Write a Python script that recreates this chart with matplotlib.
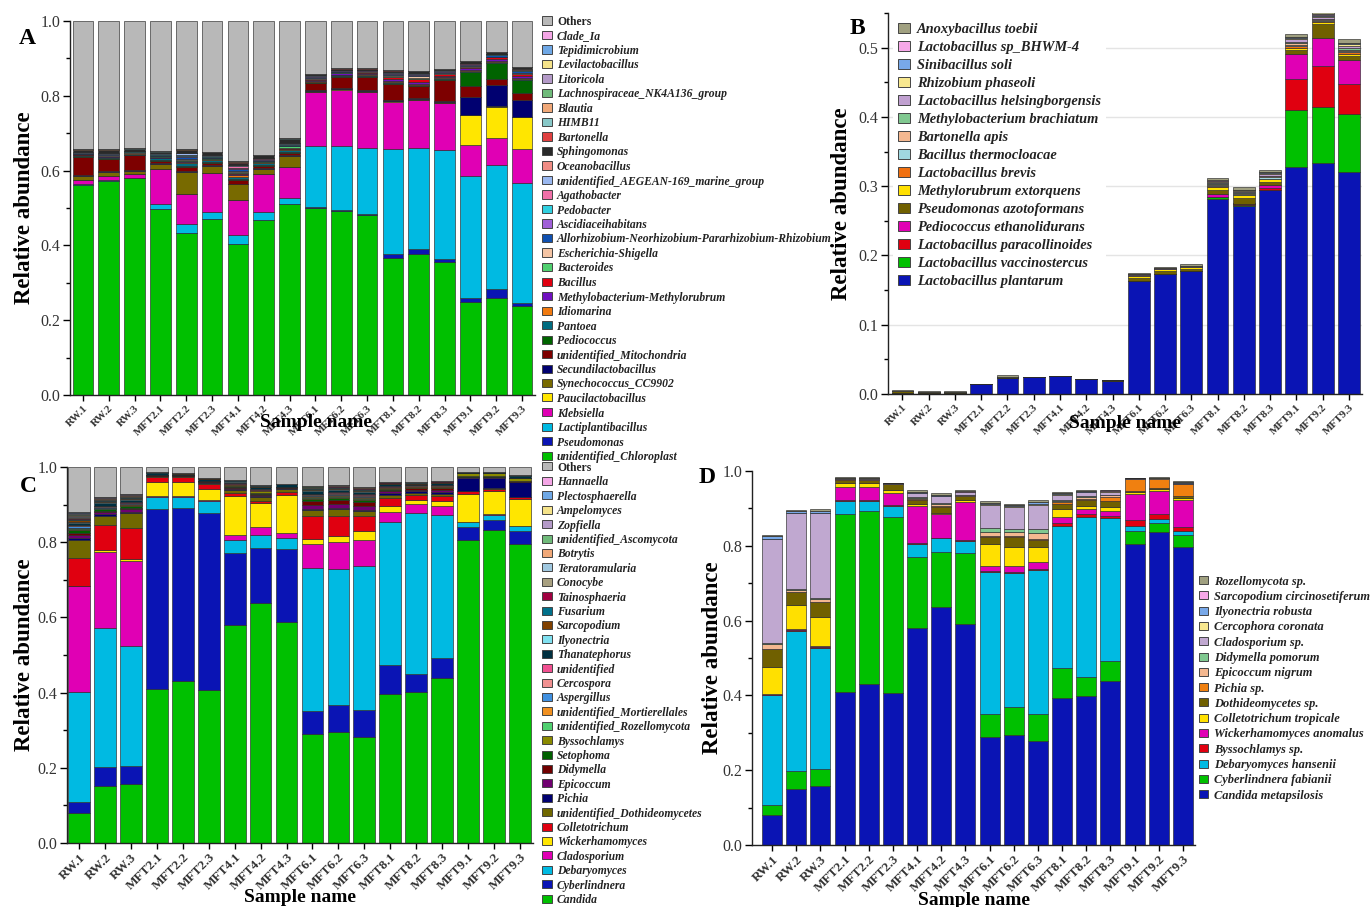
import matplotlib
matplotlib.use('Agg')
import matplotlib.pyplot as plt
from matplotlib.patches import Rectangle
from matplotlib.ticker import MultipleLocator, FormatStrFormatter
import numpy as np

plt.rcParams['font.family'] = ['Liberation Serif', 'DejaVu Serif']

samples = ['RW.1', 'RW.2', 'RW.3', 'MFT2.1', 'MFT2.2', 'MFT2.3', 'MFT4.1', 'MFT4.2', 'MFT4.3',
           'MFT6.1', 'MFT6.2', 'MFT6.3', 'MFT8.1', 'MFT8.2', 'MFT8.3', 'MFT9.1', 'MFT9.2', 'MFT9.3']

# ---------------- Panel A (bacterial genera), bottom -> top ----------------
a_chloroplast = [0.562, 0.572, 0.579, 0.496, 0.434, 0.470, 0.405, 0.468, 0.510, 0.499, 0.492, 0.481, 0.367, 0.378, 0.356, 0.249, 0.259, 0.238]
a_pseudomonas = [0.000, 0.000, 0.000, 0.000, 0.000, 0.000, 0.000, 0.000, 0.000, 0.005, 0.003, 0.004, 0.009, 0.013, 0.007, 0.010, 0.025, 0.007]
a_lactiplantibacillus = [0.002, 0.002, 0.002, 0.014, 0.022, 0.020, 0.024, 0.020, 0.016, 0.162, 0.171, 0.175, 0.281, 0.270, 0.291, 0.327, 0.331, 0.323]
a_klebsiella = [0.010, 0.012, 0.011, 0.095, 0.081, 0.104, 0.092, 0.104, 0.084, 0.144, 0.150, 0.150, 0.126, 0.127, 0.126, 0.082, 0.073, 0.089]
a_paucilactobacillus = [0.000, 0.000, 0.000, 0.000, 0.000, 0.000, 0.000, 0.000, 0.000, 0.001, 0.001, 0.001, 0.002, 0.002, 0.002, 0.080, 0.082, 0.085]
a_synechococcus = [0.012, 0.010, 0.007, 0.012, 0.059, 0.018, 0.042, 0.013, 0.029, 0.002, 0.002, 0.002, 0.002, 0.002, 0.002, 0.002, 0.002, 0.002]
a_secundilactobacillus = [0.002, 0.002, 0.002, 0.002, 0.002, 0.002, 0.002, 0.002, 0.002, 0.002, 0.002, 0.002, 0.003, 0.003, 0.003, 0.047, 0.058, 0.044]
a_mitochondria = [0.049, 0.034, 0.040, 0.008, 0.012, 0.007, 0.011, 0.006, 0.006, 0.019, 0.029, 0.036, 0.042, 0.030, 0.055, 0.029, 0.016, 0.020]
a_pediococcus = [0.002, 0.002, 0.002, 0.002, 0.003, 0.002, 0.002, 0.002, 0.004, 0.002, 0.003, 0.003, 0.003, 0.003, 0.003, 0.038, 0.042, 0.034]
a_pantoea = [0.002, 0.002, 0.002, 0.004, 0.006, 0.005, 0.005, 0.005, 0.005, 0.002, 0.002, 0.002, 0.002, 0.002, 0.002, 0.002, 0.002, 0.003]
a_idiomarina = [0.001, 0.001, 0.001, 0.002, 0.004, 0.002, 0.006, 0.002, 0.002, 0.001, 0.001, 0.001, 0.002, 0.002, 0.002, 0.002, 0.002, 0.002]
a_methylobacterium = [0.001, 0.001, 0.001, 0.001, 0.002, 0.001, 0.002, 0.001, 0.001, 0.004, 0.004, 0.004, 0.005, 0.005, 0.005, 0.006, 0.006, 0.006]
a_bacillus = [0.001, 0.001, 0.001, 0.001, 0.002, 0.001, 0.002, 0.001, 0.002, 0.002, 0.002, 0.002, 0.007, 0.008, 0.004, 0.003, 0.005, 0.004]
a_bacteroides = [0.000, 0.001, 0.000, 0.001, 0.002, 0.001, 0.003, 0.001, 0.004, 0.001, 0.001, 0.001, 0.002, 0.002, 0.001, 0.001, 0.001, 0.002]
a_escherichia = [0.001, 0.001, 0.001, 0.001, 0.003, 0.001, 0.003, 0.001, 0.001, 0.001, 0.001, 0.001, 0.002, 0.005, 0.001, 0.001, 0.001, 0.002]
a_allorhizobium = [0.002, 0.003, 0.002, 0.002, 0.004, 0.002, 0.004, 0.003, 0.002, 0.003, 0.003, 0.002, 0.003, 0.003, 0.003, 0.004, 0.003, 0.004]
a_ascidiaceihabitans = [0.000, 0.000, 0.000, 0.001, 0.002, 0.001, 0.003, 0.001, 0.001, 0.002, 0.001, 0.001, 0.002, 0.002, 0.002, 0.002, 0.002, 0.002]
a_pedobacter = [0.001, 0.001, 0.001, 0.002, 0.003, 0.002, 0.002, 0.002, 0.002, 0.001, 0.001, 0.001, 0.001, 0.001, 0.001, 0.001, 0.001, 0.001]
a_agathobacter = [0.000, 0.000, 0.000, 0.001, 0.002, 0.001, 0.003, 0.001, 0.001, 0.001, 0.001, 0.001, 0.001, 0.001, 0.001, 0.001, 0.001, 0.001]
a_aegean = [0.001, 0.002, 0.001, 0.001, 0.003, 0.001, 0.003, 0.001, 0.001, 0.001, 0.000, 0.000, 0.001, 0.001, 0.001, 0.001, 0.001, 0.001]
a_oceanobacillus = [0.000, 0.001, 0.000, 0.000, 0.002, 0.001, 0.002, 0.001, 0.001, 0.000, 0.000, 0.000, 0.001, 0.001, 0.000, 0.000, 0.000, 0.001]
a_sphingomonas = [0.006, 0.006, 0.006, 0.005, 0.006, 0.007, 0.005, 0.007, 0.010, 0.003, 0.002, 0.002, 0.003, 0.004, 0.003, 0.004, 0.004, 0.005]
a_bartonella = [0.000, 0.000, 0.000, 0.000, 0.001, 0.000, 0.001, 0.000, 0.001, 0.001, 0.001, 0.001, 0.002, 0.002, 0.001, 0.001, 0.001, 0.002]
a_himb11 = [0.001, 0.002, 0.001, 0.001, 0.001, 0.001, 0.002, 0.001, 0.001, 0.000, 0.000, 0.000, 0.000, 0.000, 0.000, 0.000, 0.000, 0.000]
a_blautia = [0.001, 0.001, 0.001, 0.000, 0.001, 0.000, 0.001, 0.000, 0.000, 0.000, 0.000, 0.000, 0.000, 0.000, 0.000, 0.000, 0.000, 0.000]
a_lachnospiraceae = [0.000, 0.000, 0.000, 0.000, 0.001, 0.000, 0.001, 0.000, 0.000, 0.000, 0.000, 0.000, 0.000, 0.000, 0.000, 0.000, 0.000, 0.000]
a_litoricola = [0.000, 0.000, 0.000, 0.000, 0.001, 0.000, 0.001, 0.000, 0.000, 0.000, 0.000, 0.000, 0.000, 0.000, 0.000, 0.000, 0.000, 0.000]
a_levilactobacillus = [0.000, 0.000, 0.000, 0.000, 0.000, 0.000, 0.000, 0.000, 0.000, 0.000, 0.000, 0.000, 0.000, 0.000, 0.000, 0.000, 0.000, 0.000]
a_tepidimicrobium = [0.000, 0.000, 0.000, 0.000, 0.000, 0.000, 0.000, 0.000, 0.000, 0.000, 0.000, 0.000, 0.000, 0.000, 0.000, 0.000, 0.000, 0.000]
a_clade_ia = [0.000, 0.000, 0.000, 0.000, 0.000, 0.000, 0.000, 0.000, 0.000, 0.000, 0.000, 0.000, 0.000, 0.000, 0.000, 0.000, 0.000, 0.000]
a_others = [0.343, 0.343, 0.339, 0.348, 0.341, 0.350, 0.373, 0.357, 0.314, 0.141, 0.127, 0.127, 0.131, 0.133, 0.128, 0.107, 0.082, 0.122]

# ---------------- Panel B (bacterial species), bottom -> top ----------------
b_plantarum = [0.001, 0.001, 0.001, 0.014, 0.023, 0.025, 0.026, 0.021, 0.019, 0.163, 0.173, 0.177, 0.282, 0.272, 0.294, 0.327, 0.333, 0.320]
b_vaccinostercus = [0.000, 0.000, 0.000, 0.000, 0.000, 0.000, 0.000, 0.000, 0.000, 0.000, 0.000, 0.000, 0.002, 0.001, 0.001, 0.083, 0.082, 0.084]
b_paracollinoides = [0.000, 0.000, 0.000, 0.000, 0.000, 0.000, 0.000, 0.000, 0.000, 0.000, 0.000, 0.000, 0.001, 0.001, 0.003, 0.045, 0.059, 0.044]
b_pediococcus = [0.000, 0.000, 0.000, 0.000, 0.000, 0.000, 0.000, 0.000, 0.000, 0.000, 0.000, 0.000, 0.003, 0.001, 0.004, 0.036, 0.040, 0.034]
b_pseudomonas = [0.004, 0.002, 0.002, 0.001, 0.002, 0.000, 0.000, 0.000, 0.001, 0.005, 0.005, 0.004, 0.007, 0.008, 0.004, 0.005, 0.020, 0.006]
b_methylorubrum = [0.000, 0.000, 0.000, 0.000, 0.000, 0.000, 0.000, 0.000, 0.000, 0.003, 0.002, 0.002, 0.004, 0.004, 0.004, 0.003, 0.003, 0.003]
b_brevis = [0.000, 0.000, 0.000, 0.000, 0.000, 0.000, 0.000, 0.000, 0.000, 0.000, 0.000, 0.000, 0.001, 0.000, 0.001, 0.003, 0.002, 0.002]
b_thermocloacae = [0.000, 0.000, 0.000, 0.000, 0.000, 0.000, 0.000, 0.000, 0.000, 0.000, 0.000, 0.000, 0.002, 0.002, 0.002, 0.002, 0.001, 0.002]
b_bartonella = [0.000, 0.000, 0.000, 0.000, 0.000, 0.000, 0.000, 0.000, 0.000, 0.001, 0.001, 0.001, 0.001, 0.001, 0.001, 0.002, 0.001, 0.002]
b_methylobacterium = [0.000, 0.000, 0.000, 0.000, 0.000, 0.000, 0.000, 0.000, 0.000, 0.000, 0.000, 0.000, 0.001, 0.001, 0.001, 0.002, 0.001, 0.002]
b_helsingborgensis = [0.000, 0.000, 0.000, 0.000, 0.000, 0.000, 0.000, 0.000, 0.000, 0.001, 0.001, 0.001, 0.002, 0.002, 0.003, 0.004, 0.002, 0.004]
b_rhizobium = [0.000, 0.000, 0.000, 0.000, 0.000, 0.000, 0.000, 0.000, 0.000, 0.000, 0.000, 0.000, 0.001, 0.001, 0.001, 0.002, 0.002, 0.002]
b_sinibacillus = [0.000, 0.000, 0.000, 0.000, 0.000, 0.000, 0.000, 0.000, 0.000, 0.000, 0.000, 0.000, 0.001, 0.001, 0.001, 0.001, 0.001, 0.001]
b_bhwm4 = [0.000, 0.000, 0.000, 0.000, 0.000, 0.000, 0.000, 0.000, 0.000, 0.000, 0.000, 0.000, 0.001, 0.000, 0.001, 0.001, 0.001, 0.001]
b_anoxybacillus = [0.001, 0.001, 0.001, 0.000, 0.002, 0.000, 0.000, 0.000, 0.000, 0.001, 0.002, 0.002, 0.003, 0.004, 0.003, 0.004, 0.003, 0.006]

# ---------------- Panel C (fungal genera), bottom -> top ----------------
c_candida = [0.080, 0.151, 0.158, 0.410, 0.430, 0.408, 0.579, 0.637, 0.588, 0.290, 0.294, 0.282, 0.395, 0.401, 0.439, 0.805, 0.833, 0.795]
c_cyberlindnera = [0.029, 0.050, 0.048, 0.477, 0.461, 0.470, 0.192, 0.148, 0.194, 0.062, 0.074, 0.073, 0.079, 0.049, 0.053, 0.035, 0.027, 0.034]
c_debaryomyces = [0.293, 0.371, 0.317, 0.033, 0.029, 0.031, 0.036, 0.035, 0.029, 0.379, 0.362, 0.381, 0.381, 0.428, 0.381, 0.014, 0.013, 0.013]
c_cladosporium = [0.282, 0.202, 0.226, 0.004, 0.002, 0.004, 0.013, 0.020, 0.013, 0.065, 0.070, 0.071, 0.024, 0.024, 0.024, 0.001, 0.001, 0.001]
c_wickerhamomyces = [0.000, 0.006, 0.005, 0.036, 0.038, 0.029, 0.104, 0.064, 0.102, 0.013, 0.016, 0.022, 0.016, 0.011, 0.012, 0.074, 0.062, 0.071]
c_colletotrichum = [0.074, 0.065, 0.084, 0.013, 0.013, 0.014, 0.008, 0.006, 0.008, 0.060, 0.053, 0.040, 0.023, 0.013, 0.013, 0.006, 0.005, 0.005]
c_dothideomycetes = [0.049, 0.026, 0.040, 0.002, 0.002, 0.002, 0.008, 0.010, 0.008, 0.016, 0.018, 0.013, 0.008, 0.006, 0.006, 0.002, 0.002, 0.002]
c_pichia = [0.003, 0.003, 0.003, 0.001, 0.001, 0.001, 0.002, 0.002, 0.001, 0.004, 0.004, 0.004, 0.005, 0.004, 0.006, 0.035, 0.029, 0.039]
c_epicoccum = [0.008, 0.005, 0.006, 0.001, 0.001, 0.001, 0.003, 0.003, 0.001, 0.010, 0.010, 0.010, 0.004, 0.003, 0.004, 0.001, 0.001, 0.001]
c_didymella = [0.006, 0.005, 0.005, 0.001, 0.001, 0.002, 0.003, 0.004, 0.002, 0.010, 0.011, 0.010, 0.005, 0.004, 0.005, 0.001, 0.001, 0.001]
c_setophoma = [0.008, 0.003, 0.004, 0.001, 0.000, 0.001, 0.002, 0.003, 0.001, 0.005, 0.005, 0.005, 0.002, 0.002, 0.002, 0.001, 0.001, 0.001]
c_byssochlamys = [0.003, 0.002, 0.002, 0.000, 0.000, 0.000, 0.002, 0.003, 0.001, 0.003, 0.003, 0.003, 0.002, 0.002, 0.002, 0.008, 0.008, 0.008]
c_rozellomycota = [0.002, 0.002, 0.002, 0.000, 0.000, 0.000, 0.001, 0.002, 0.000, 0.003, 0.003, 0.004, 0.001, 0.001, 0.001, 0.000, 0.000, 0.000]
c_mortierellales = [0.002, 0.001, 0.001, 0.000, 0.000, 0.000, 0.001, 0.001, 0.000, 0.002, 0.002, 0.002, 0.001, 0.001, 0.001, 0.001, 0.001, 0.001]
c_aspergillus = [0.003, 0.002, 0.002, 0.000, 0.000, 0.000, 0.001, 0.001, 0.000, 0.003, 0.003, 0.003, 0.001, 0.001, 0.001, 0.000, 0.000, 0.000]
c_cercospora = [0.003, 0.002, 0.002, 0.000, 0.000, 0.000, 0.001, 0.001, 0.000, 0.002, 0.003, 0.002, 0.001, 0.001, 0.001, 0.000, 0.000, 0.000]
c_unidentified = [0.002, 0.001, 0.001, 0.000, 0.000, 0.000, 0.001, 0.001, 0.000, 0.002, 0.002, 0.002, 0.001, 0.000, 0.001, 0.000, 0.000, 0.000]
c_thanatephorus = [0.005, 0.006, 0.006, 0.005, 0.004, 0.006, 0.004, 0.005, 0.006, 0.006, 0.006, 0.006, 0.005, 0.004, 0.005, 0.002, 0.002, 0.004]
c_ilyonectria = [0.002, 0.003, 0.002, 0.000, 0.000, 0.000, 0.001, 0.002, 0.000, 0.003, 0.003, 0.003, 0.001, 0.001, 0.001, 0.000, 0.000, 0.000]
c_sarcopodium = [0.004, 0.003, 0.003, 0.001, 0.001, 0.002, 0.002, 0.002, 0.001, 0.003, 0.003, 0.003, 0.002, 0.002, 0.002, 0.001, 0.001, 0.001]
c_fusarium = [0.003, 0.002, 0.002, 0.001, 0.001, 0.001, 0.001, 0.001, 0.001, 0.002, 0.003, 0.002, 0.001, 0.001, 0.001, 0.001, 0.001, 0.001]
c_tainosphaeria = [0.003, 0.002, 0.002, 0.000, 0.000, 0.000, 0.000, 0.000, 0.000, 0.002, 0.002, 0.002, 0.001, 0.000, 0.001, 0.000, 0.000, 0.000]
c_conocybe = [0.004, 0.002, 0.002, 0.000, 0.000, 0.000, 0.000, 0.000, 0.000, 0.001, 0.001, 0.001, 0.000, 0.000, 0.000, 0.000, 0.000, 0.000]
c_teratoramularia = [0.002, 0.001, 0.001, 0.000, 0.000, 0.000, 0.000, 0.000, 0.000, 0.001, 0.001, 0.001, 0.000, 0.000, 0.000, 0.000, 0.000, 0.000]
c_botrytis = [0.002, 0.001, 0.001, 0.000, 0.000, 0.000, 0.000, 0.000, 0.000, 0.001, 0.001, 0.001, 0.000, 0.000, 0.000, 0.000, 0.000, 0.000]
c_ascomycota = [0.002, 0.001, 0.001, 0.000, 0.000, 0.000, 0.000, 0.000, 0.000, 0.001, 0.000, 0.001, 0.000, 0.000, 0.000, 0.000, 0.000, 0.000]
c_zopfiella = [0.003, 0.002, 0.002, 0.000, 0.000, 0.000, 0.000, 0.000, 0.000, 0.000, 0.000, 0.000, 0.000, 0.000, 0.000, 0.000, 0.000, 0.000]
c_ampelomyces = [0.001, 0.000, 0.000, 0.000, 0.000, 0.000, 0.000, 0.000, 0.000, 0.000, 0.000, 0.000, 0.000, 0.000, 0.000, 0.000, 0.000, 0.000]
c_plectosphaerella = [0.001, 0.000, 0.000, 0.000, 0.000, 0.000, 0.000, 0.000, 0.000, 0.000, 0.000, 0.000, 0.000, 0.000, 0.000, 0.000, 0.000, 0.000]
c_hannaella = [0.000, 0.000, 0.000, 0.000, 0.000, 0.000, 0.000, 0.000, 0.000, 0.000, 0.000, 0.000, 0.000, 0.000, 0.000, 0.000, 0.000, 0.000]
c_others = [0.121, 0.080, 0.072, 0.014, 0.016, 0.028, 0.035, 0.049, 0.044, 0.051, 0.047, 0.053, 0.041, 0.041, 0.038, 0.012, 0.012, 0.022]

# ---------------- Panel D (fungal species), bottom -> top ----------------
d_candida = [0.081, 0.150, 0.158, 0.410, 0.431, 0.407, 0.579, 0.637, 0.590, 0.288, 0.295, 0.279, 0.394, 0.399, 0.439, 0.806, 0.836, 0.797]
d_cyberlindnera = [0.027, 0.048, 0.046, 0.475, 0.463, 0.470, 0.191, 0.147, 0.191, 0.062, 0.073, 0.072, 0.079, 0.049, 0.054, 0.034, 0.026, 0.032]
d_debaryomyces = [0.293, 0.374, 0.323, 0.036, 0.027, 0.030, 0.035, 0.036, 0.032, 0.380, 0.359, 0.385, 0.380, 0.429, 0.381, 0.013, 0.009, 0.011]
d_byssochlamys = [0.001, 0.003, 0.003, 0.001, 0.001, 0.001, 0.002, 0.002, 0.002, 0.002, 0.002, 0.002, 0.007, 0.008, 0.006, 0.015, 0.014, 0.011]
d_wickerhamomyces = [0.001, 0.003, 0.002, 0.036, 0.036, 0.033, 0.100, 0.063, 0.101, 0.013, 0.017, 0.019, 0.017, 0.013, 0.014, 0.071, 0.061, 0.072]
d_colletotrichum = [0.073, 0.064, 0.078, 0.010, 0.010, 0.009, 0.005, 0.004, 0.006, 0.060, 0.051, 0.040, 0.021, 0.009, 0.011, 0.004, 0.005, 0.005]
d_dothideomycetes = [0.049, 0.034, 0.040, 0.009, 0.008, 0.014, 0.011, 0.016, 0.010, 0.019, 0.027, 0.018, 0.015, 0.016, 0.014, 0.003, 0.004, 0.004]
d_pichia = [0.000, 0.000, 0.000, 0.001, 0.001, 0.001, 0.002, 0.002, 0.002, 0.002, 0.002, 0.003, 0.004, 0.003, 0.012, 0.032, 0.024, 0.032]
d_epicoccum = [0.012, 0.006, 0.008, 0.001, 0.001, 0.001, 0.003, 0.004, 0.002, 0.012, 0.012, 0.017, 0.003, 0.004, 0.004, 0.001, 0.001, 0.002]
d_didymella = [0.002, 0.002, 0.002, 0.000, 0.000, 0.000, 0.002, 0.003, 0.001, 0.009, 0.006, 0.009, 0.002, 0.002, 0.002, 0.000, 0.000, 0.000]
d_cladosporium = [0.279, 0.203, 0.227, 0.001, 0.002, 0.001, 0.010, 0.018, 0.006, 0.063, 0.061, 0.066, 0.015, 0.012, 0.008, 0.001, 0.001, 0.002]
d_cercophora = [0.001, 0.002, 0.002, 0.001, 0.001, 0.000, 0.002, 0.002, 0.001, 0.002, 0.002, 0.003, 0.002, 0.001, 0.001, 0.001, 0.001, 0.001]
d_ilyonectria = [0.006, 0.003, 0.004, 0.001, 0.001, 0.001, 0.002, 0.002, 0.001, 0.002, 0.002, 0.003, 0.002, 0.001, 0.001, 0.000, 0.000, 0.001]
d_sarcopodium = [0.002, 0.001, 0.001, 0.000, 0.000, 0.000, 0.001, 0.001, 0.001, 0.001, 0.001, 0.002, 0.001, 0.001, 0.001, 0.000, 0.000, 0.001]
d_rozellomycota = [0.002, 0.003, 0.004, 0.001, 0.001, 0.000, 0.003, 0.004, 0.002, 0.004, 0.002, 0.005, 0.002, 0.002, 0.002, 0.001, 0.002, 0.002]

# ---------------- series definitions (bottom -> top) ----------------
series_a = [
    ('unidentified_Chloroplast', '#00c000', a_chloroplast),
    ('Pseudomonas', '#0a14b4', a_pseudomonas),
    ('Lactiplantibacillus', '#00bae2', a_lactiplantibacillus),
    ('Klebsiella', '#e000b4', a_klebsiella),
    ('Paucilactobacillus', '#ffe600', a_paucilactobacillus),
    ('Synechococcus_CC9902', '#786a00', a_synechococcus),
    ('Secundilactobacillus', '#000070', a_secundilactobacillus),
    ('unidentified_Mitochondria', '#7d0000', a_mitochondria),
    ('Pediococcus', '#006400', a_pediococcus),
    ('Pantoea', '#006c80', a_pantoea),
    ('Idiomarina', '#f07a10', a_idiomarina),
    ('Methylobacterium-Methylorubrum', '#7010c0', a_methylobacterium),
    ('Bacillus', '#e00010', a_bacillus),
    ('Bacteroides', '#50d070', a_bacteroides),
    ('Escherichia-Shigella', '#f4c4a4', a_escherichia),
    ('Allorhizobium-Neorhizobium-Pararhizobium-Rhizobium', '#1050b0', a_allorhizobium),
    ('Ascidiaceihabitans', '#a060d8', a_ascidiaceihabitans),
    ('Pedobacter', '#30d0e0', a_pedobacter),
    ('Agathobacter', '#f070a8', a_agathobacter),
    ('unidentified_AEGEAN-169_marine_group', '#9ab8f0', a_aegean),
    ('Oceanobacillus', '#f08c84', a_oceanobacillus),
    ('Sphingomonas', '#2a2a2a', a_sphingomonas),
    ('Bartonella', '#e04040', a_bartonella),
    ('HIMB11', '#88c8c8', a_himb11),
    ('Blautia', '#f0a878', a_blautia),
    ('Lachnospiraceae_NK4A136_group', '#6fba7a', a_lachnospiraceae),
    ('Litoricola', '#b49ac8', a_litoricola),
    ('Levilactobacillus', '#f5e38a', a_levilactobacillus),
    ('Tepidimicrobium', '#6fa8e6', a_tepidimicrobium),
    ('Clade_Ia', '#f4a6e6', a_clade_ia),
    ('Others', '#b8b8b8', a_others),
]

series_b = [
    ('Lactobacillus plantarum', '#0a14b4', b_plantarum),
    ('Lactobacillus vaccinostercus', '#00c000', b_vaccinostercus),
    ('Lactobacillus paracollinoides', '#e00010', b_paracollinoides),
    ('Pediococcus ethanolidurans', '#e000b4', b_pediococcus),
    ('Pseudomonas azotoformans', '#706000', b_pseudomonas),
    ('Methylorubrum extorquens', '#ffe000', b_methylorubrum),
    ('Lactobacillus brevis', '#f07010', b_brevis),
    ('Bacillus thermocloacae', '#a0d8e0', b_thermocloacae),
    ('Bartonella apis', '#f4b890', b_bartonella),
    ('Methylobacterium brachiatum', '#80c890', b_methylobacterium),
    ('Lactobacillus helsingborgensis', '#c0a0d0', b_helsingborgensis),
    ('Rhizobium phaseoli', '#f8e890', b_rhizobium),
    ('Sinibacillus soli', '#78a8e8', b_sinibacillus),
    ('Lactobacillus sp_BHWM-4', '#f7a8e8', b_bhwm4),
    ('Anoxybacillus toebii', '#a0a080', b_anoxybacillus),
]

series_c = [
    ('Candida', '#00c000', c_candida),
    ('Cyberlindnera', '#0a14b4', c_cyberlindnera),
    ('Debaryomyces', '#00bae2', c_debaryomyces),
    ('Cladosporium', '#e000b4', c_cladosporium),
    ('Wickerhamomyces', '#ffe600', c_wickerhamomyces),
    ('Colletotrichum', '#e00010', c_colletotrichum),
    ('unidentified_Dothideomycetes', '#706800', c_dothideomycetes),
    ('Pichia', '#000070', c_pichia),
    ('Epicoccum', '#700070', c_epicoccum),
    ('Didymella', '#700000', c_didymella),
    ('Setophoma', '#006000', c_setophoma),
    ('Byssochlamys', '#8a8a00', c_byssochlamys),
    ('unidentified_Rozellomycota', '#50d070', c_rozellomycota),
    ('unidentified_Mortierellales', '#f09020', c_mortierellales),
    ('Aspergillus', '#4090e0', c_aspergillus),
    ('Cercospora', '#f09090', c_cercospora),
    ('unidentified', '#f05090', c_unidentified),
    ('Thanatephorus', '#003040', c_thanatephorus),
    ('Ilyonectria', '#80e0f0', c_ilyonectria),
    ('Sarcopodium', '#804000', c_sarcopodium),
    ('Fusarium', '#00708a', c_fusarium),
    ('Tainosphaeria', '#a00040', c_tainosphaeria),
    ('Conocybe', '#a8a080', c_conocybe),
    ('Teratoramularia', '#a0c8e0', c_teratoramularia),
    ('Botrytis', '#f0a878', c_botrytis),
    ('unidentified_Ascomycota', '#6fba7a', c_ascomycota),
    ('Zopfiella', '#b49ac8', c_zopfiella),
    ('Ampelomyces', '#f5e38a', c_ampelomyces),
    ('Plectosphaerella', '#6fa8e6', c_plectosphaerella),
    ('Hannaella', '#f4a6e6', c_hannaella),
    ('Others', '#b8b8b8', c_others),
]

series_d = [
    ('Candida metapsilosis', '#0a14b4', d_candida),
    ('Cyberlindnera fabianii', '#00c000', d_cyberlindnera),
    ('Debaryomyces hansenii', '#00bae2', d_debaryomyces),
    ('Byssochlamys sp.', '#e00010', d_byssochlamys),
    ('Wickerhamomyces anomalus', '#e000b4', d_wickerhamomyces),
    ('Colletotrichum tropicale', '#ffe000', d_colletotrichum),
    ('Dothideomycetes sp.', '#706000', d_dothideomycetes),
    ('Pichia sp.', '#f08010', d_pichia),
    ('Epicoccum nigrum', '#f4b890', d_epicoccum),
    ('Didymella pomorum', '#80c890', d_didymella),
    ('Cladosporium sp.', '#c0a8d0', d_cladosporium),
    ('Cercophora coronata', '#f8e890', d_cercophora),
    ('Ilyonectria robusta', '#78a8e8', d_ilyonectria),
    ('Sarcopodium circinosetiferum', '#f7a8e8', d_sarcopodium),
    ('Rozellomycota sp.', '#a0a080', d_rozellomycota),
]

W, H = 1370, 907
fig = plt.figure(figsize=(W / 100, H / 100), dpi=100)


def axes_px(left, right, top, bottom):
    return fig.add_axes([left / W, 1 - bottom / H, (right - left) / W, (bottom - top) / H])


def draw_stack(ax, series, width):
    x = np.arange(len(samples))
    base = np.zeros(len(samples))
    for name, color, vals in series:
        v = np.asarray(vals, dtype=float)
        ax.bar(x, v, width, bottom=base, color=color, edgecolor='#2a2a2a', linewidth=0.45, zorder=2)
        base = base + v


def style(ax, ymax, major, xlim, xfs, ylab_x, xlab_xy, letter, letter_xy):
    ax.set_ylim(0, ymax)
    ax.set_xlim(*xlim)
    for s in ('top', 'right'):
        ax.spines[s].set_visible(False)
    for s in ('left', 'bottom'):
        ax.spines[s].set_linewidth(1.0)
        ax.spines[s].set_color('#222222')
    ax.yaxis.set_major_locator(MultipleLocator(major))
    ax.yaxis.set_minor_locator(MultipleLocator(major / 2))
    ax.yaxis.set_major_formatter(FormatStrFormatter('%.1f'))
    ax.tick_params(axis='y', which='major', direction='out', length=5, width=1, labelsize=11.5,
                   labelcolor='#333333', pad=2)
    ax.tick_params(axis='y', which='minor', direction='out', length=3, width=1)
    ax.set_xticks(np.arange(len(samples)))
    ax.set_xticklabels(samples, rotation=45, ha='right', rotation_mode='anchor',
                       fontweight='bold', fontsize=xfs, color='#333333')
    ax.tick_params(axis='x', direction='out', length=4, width=1, pad=2)
    ax.set_ylabel('Relative abundance', fontsize=16.5, fontweight='bold')
    ax.yaxis.set_label_coords(ylab_x, 0.5)
    ax.set_xlabel('Sample name', fontsize=14, fontweight='bold', va='top')
    ax.xaxis.set_label_coords(*xlab_xy)
    fig.text(letter_xy[0] / W, 1 - letter_xy[1] / H, letter, fontsize=17, fontweight='bold',
             ha='center', va='center')


def manual_legend(series, mx, y0, step, mw, mh, tx, fs):
    """Legend rows drawn top -> bottom (reverse of stacking order), pixel positions."""
    for i, (name, color, vals) in enumerate(reversed(series)):
        yc = y0 + i * step
        fig.add_artist(Rectangle((mx / W, 1 - (yc + mh / 2) / H), mw / W, mh / H,
                                 transform=fig.transFigure, facecolor=color,
                                 edgecolor='#444444', linewidth=0.7, zorder=4))
        fig.text(tx / W, 1 - yc / H, name, fontsize=fs, fontweight='bold',
                 style='normal' if name == 'Others' else 'italic',
                 ha='left', va='center_baseline', color='#222222', zorder=5)


# Panel A
axA = axes_px(70, 535, 21, 395)
draw_stack(axA, series_a, 0.8)
style(axA, 1.0, 0.2, (-0.5, 17.5), 8, -0.075, (0.53, -0.052), 'A', (27, 38))
manual_legend(series_a, 542, 20.5, 14.5, 10, 8, 557, 8.4)

# Panel B
axB = axes_px(888, 1362, 13, 394)
axB.yaxis.grid(True, which='major', color='#e4e4e4', linewidth=1.0, zorder=0)
axB.set_axisbelow(True)
draw_stack(axB, series_b, 0.83)
style(axB, 0.55, 0.1, (-0.55, 17.5), 8, -0.076, (0.5, -0.054), 'B', (857, 28))
fig.add_artist(Rectangle((893 / W, 1 - 290 / H), (1106 - 893) / W, (290 - 16) / H,
                         transform=fig.transFigure, facecolor='white', edgecolor='none', zorder=3))
manual_legend(series_b, 898, 28, 18, 12, 10, 917, 10.4)

# Panel C
axC = axes_px(67, 533, 467, 843)
draw_stack(axC, series_c, 0.84)
style(axC, 1.0, 0.2, (-0.46, 17.5), 9.5, -0.069, (0.5, -0.122), 'C', (28, 487))
manual_legend(series_c, 542, 466.5, 14.4, 10, 8, 557, 8.4)

# Panel D
axD = axes_px(752, 1195, 471, 845)
draw_stack(axD, series_d, 0.83)
style(axD, 1.0, 0.2, (-0.83, 17.5), 9.5, -0.066, (0.5, -0.126), 'D', (707, 478))
manual_legend(series_d, 1199, 580, 15.3, 9, 8, 1214, 8.9)

fig.savefig('out.png', dpi=100)
